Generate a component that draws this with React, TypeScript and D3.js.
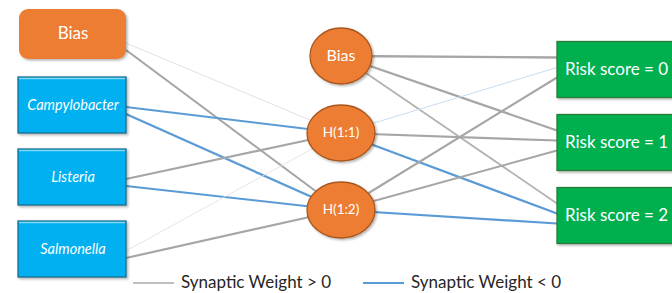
import * as d3 from 'd3';

// ---- data ----
const inputNodes = ['Bias', 'Campylobacter', 'Listeria', 'Salmonella'];
const hiddenNodes = ['Bias', 'H(1:1)', 'H(1:2)'];
const outputNodes = ['Risk score = 0', 'Risk score = 1', 'Risk score = 2'];

// weights input -> [H(1:1), H(1:2)]
const inputHiddenWeights = [
  [0.3, 1.4],
  [-1.4, -1.5],
  [1.5, -1.3],
  [0.25, 1.4],
];
// weights hidden -> [Risk 0, Risk 1, Risk 2]
const hiddenOutputWeights = [
  [1.6, 1.5, 1.0],
  [-0.3, 1.4, -1.5],
  [1.3, 1.2, -1.4],
];

const legendLabels = ['Synaptic Weight > 0', 'Synaptic Weight < 0'];

const W = 672;
const H = 293;
const FONT = 'Lato, "Open Sans", sans-serif';

const GRAY = '#a6a6a6';
const BLUE = '#5b9bd5';

export default function App() {
  const colX = d3.scalePoint<number>().domain([0, 1, 2]).range([72, 617]);
  const hiddenCx = 341;
  const yIn = d3.scalePoint<string>().domain(inputNodes).range([33, 249]);
  const yHid = d3.scalePoint<string>().domain(hiddenNodes).range([56, 210]);
  const yOut = d3.scalePoint<string>().domain(outputNodes).range([69.5, 215.5]);

  const boxW = 108;
  const inRight = colX(0)! + boxW / 2;
  const outW = 120;
  const outLeft = colX(2)! - outW / 2;

  const widthScale = d3.scaleLinear().domain([0, 1.6]).range([0.6, 2.4]).clamp(true);
  const tintScale = d3.scaleLinear().domain([0.2, 1.2]).range([0.3, 1]).clamp(true);
  const strokeOf = (w: number) => {
    const base = w >= 0 ? GRAY : BLUE;
    return d3.interpolateRgb('#ffffff', base)(tintScale(Math.abs(w)));
  };

  const edges: { x1: number; y1: number; x2: number; y2: number; w: number }[] = [];
  inputNodes.forEach((n, i) => {
    inputHiddenWeights[i].forEach((w, j) => {
      const t = hiddenNodes[j + 1];
      edges.push({ x1: inRight, y1: yIn(n)! + 2 + j * 7 + (i === 0 ? 8 : 0), x2: hiddenCx, y2: yHid(t)!, w });
    });
  });
  hiddenNodes.forEach((n, i) => {
    hiddenOutputWeights[i].forEach((w, j) => {
      const t = outputNodes[j];
      edges.push({ x1: hiddenCx, y1: yHid(n)!, x2: outLeft, y2: yOut(t)! - 12 + i * 10, w });
    });
  });

  return (
    <svg width={W} height={H} style={{ position: 'absolute', left: 0, top: 0, background: '#fff' }} fontFamily={FONT}>
      <defs>
        <filter id="sh" x="-20%" y="-20%" width="150%" height="150%">
          <feDropShadow dx="1.5" dy="1.5" stdDeviation="1.2" floodColor="#000" floodOpacity="0.3" />
        </filter>
      </defs>

      {edges.map((e, k) => (
        <line key={k} x1={e.x1} y1={e.y1} x2={e.x2} y2={e.y2}
          stroke={strokeOf(e.w)} strokeWidth={widthScale(Math.abs(e.w))} />
      ))}

      {/* input layer */}
      {inputNodes.map((n, i) => {
        const cy = yIn(n)!;
        if (i === 0) {
          return (
            <g key={n}>
              <rect x={colX(0)! - 53} y={cy - 24} width={107} height={50} rx={9} fill="#ed7d31" filter="url(#sh)" />
              <text x={colX(0)! + 1} y={cy + 2} fill="#fff" fontSize={17} textAnchor="middle" dominantBaseline="middle">{n}</text>
            </g>
          );
        }
        return (
          <g key={n}>
            <rect x={colX(0)! - boxW / 2} y={cy - 28} width={boxW} height={56} fill="#00b0f0" stroke="#1b6e8c" strokeWidth={1.3} filter="url(#sh)" />
            <line x1={colX(0)! - boxW / 2 + 1} x2={colX(0)! + boxW / 2 - 1} y1={cy - 26.5} y2={cy - 26.5} stroke="#7fd6f7" strokeWidth={1.5} />
            <text x={colX(0)! + 1} y={cy + 1} fill="#fff" fontSize={14.5} fontStyle="italic" textAnchor="middle" dominantBaseline="middle">{n}</text>
          </g>
        );
      })}

      {/* hidden layer */}
      {hiddenNodes.map((n, i) => (
        <g key={n}>
          <ellipse cx={hiddenCx} cy={yHid(n)!} rx={i === 0 ? 31 : 34} ry={28} fill="#ed7d31" stroke="#a9561d" strokeWidth={1.3} filter="url(#sh)" />
          <text x={hiddenCx} y={yHid(n)! + 1} fill="#fff" fontSize={i === 0 ? 16 : 13.5} textAnchor="middle" dominantBaseline="middle">{n}</text>
        </g>
      ))}

      {/* output layer */}
      {outputNodes.map((n) => (
        <g key={n}>
          <rect x={outLeft} y={yOut(n)! - 28} width={outW} height={56} fill="#00b050" stroke="#2d7a3a" strokeWidth={1.3} filter="url(#sh)" />
          <text x={outLeft + 8} y={yOut(n)! + 1} fill="#fff" fontSize={17} dominantBaseline="middle">{n}</text>
        </g>
      ))}

      {/* legend */}
      {legendLabels.map((l, i) => {
        const x0 = i === 0 ? 133 : 363;
        return (
          <g key={l}>
            <line x1={x0} x2={x0 + 41} y1={283} y2={283} stroke={i === 0 ? '#bfbfbf' : BLUE} strokeWidth={2} />
            <text x={x0 + 48} y={284} fontSize={17} fill="#262626" dominantBaseline="middle">{l}</text>
          </g>
        );
      })}
    </svg>
  );
}
